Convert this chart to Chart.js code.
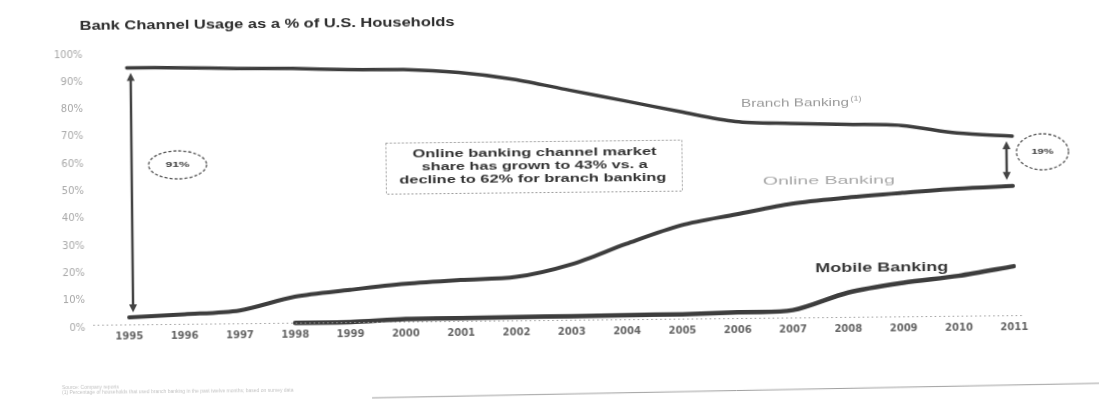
<!DOCTYPE html>
<html>
<head>
<meta charset="utf-8">
<script src="https://cdn.jsdelivr.net/npm/chart.js@4"></script>
<style>
  html, body { margin: 0; padding: 0; background: #fff; overflow: hidden; }
  /* the scanned original sits slightly askew */
  canvas { display: block; transform: rotate(-0.6deg); transform-origin: 50% 50%; }
</style>
</head>
<body>
<canvas id="usage" width="1099" height="402"></canvas>
<script>
// Data (% of U.S. households)
const years = ['1995', '1996', '1997', '1998', '1999', '2000', '2001', '2002', '2003',
               '2004', '2005', '2006', '2007', '2008', '2009', '2010', '2011'];
const branchBanking = [95.1, 94.9, 94.4, 94.2, 93.6, 93.4, 92.1, 89.4, 85.2,
                       81.1, 76.9, 73.1, 72.2, 71.6, 71.0, 68.0, 66.7];
const onlineBanking = [3.7, 4.6, 5.8, 10.6, 12.9, 14.9, 16.1, 17.0, 21.4,
                       28.7, 35.3, 39.1, 42.8, 44.8, 46.3, 47.6, 48.4];
const mobileBanking = [null, null, null, 1.0, 1.1, 2.0, 2.1, 2.3, 2.4,
                       2.6, 2.7, 3.2, 3.8, 10.0, 13.4, 15.7, 19.0];
const yTickStep = 10;

const chartTitle = 'Bank Channel Usage as a % of U.S. Households';
const calloutLines = ['Online banking channel market',
                      'share has grown to 43% vs. a',
                      'decline to 62% for branch banking'];
const footnotes = ['Source: Company reports',
                   '(1) Percentage of households that used branch banking in the past twelve months; based on survey data'];

const LINE = '#3d3d3d';

// draw text squeezed/stretched to a given width (scan text is wide)
function fitText(ctx, text, cx, cy, w, font, color) {
  ctx.save();
  ctx.font = font;
  const m = ctx.measureText(text).width;
  ctx.translate(cx, cy);
  ctx.scale(w / m, 1);
  ctx.textAlign = 'center';
  ctx.textBaseline = 'middle';
  ctx.fillStyle = color;
  ctx.fillText(text, 0, 0);
  ctx.restore();
}

function arrow(ctx, x, y1, y2) {
  ctx.save();
  ctx.strokeStyle = '#444';
  ctx.fillStyle = '#444';
  ctx.lineWidth = 2.5;
  ctx.beginPath();
  ctx.moveTo(x, y1 + 6);
  ctx.lineTo(x, y2 - 6);
  ctx.stroke();
  ctx.beginPath();
  ctx.moveTo(x, y1); ctx.lineTo(x - 4, y1 + 8); ctx.lineTo(x + 4, y1 + 8); ctx.closePath();
  ctx.moveTo(x, y2); ctx.lineTo(x - 4, y2 - 8); ctx.lineTo(x + 4, y2 - 8); ctx.closePath();
  ctx.fill();
  ctx.restore();
}

function dashedEllipse(ctx, cx, cy, rx, ry, label, w) {
  ctx.save();
  ctx.strokeStyle = '#555';
  ctx.lineWidth = 1.3;
  ctx.setLineDash([3, 2]);
  ctx.beginPath();
  ctx.ellipse(cx, cy, rx, ry, 0, 0, Math.PI * 2);
  ctx.stroke();
  ctx.restore();
  fitText(ctx, label, cx, cy, w, 'bold 8px "Liberation Sans"', '#3a3a3a');
}

const notes = {
  id: 'notes',
  afterDraw(chart) {
    const { ctx, scales: { x, y } } = chart;
    const last = years.length - 1;

    fitText(ctx, chartTitle, 269, 22, 375, 'bold 12px "Liberation Sans"', '#2b2b2b');

    // 91% gap in 1995, gap at 2011
    arrow(ctx, x.getPixelForValue(0) + 4,
          y.getPixelForValue(branchBanking[0]) + 5, y.getPixelForValue(onlineBanking[0]) - 5);
    arrow(ctx, x.getPixelForValue(last) - 6,
          y.getPixelForValue(branchBanking[last]) + 5, y.getPixelForValue(onlineBanking[last]) - 6);
    dashedEllipse(ctx, 178, 161, 29, 14, '91%', 24);
    dashedEllipse(ctx, 1043, 157, 26, 18, '19%', 22);

    // callout box
    ctx.save();
    ctx.strokeStyle = '#9a9a9a';
    ctx.lineWidth = 1;
    ctx.setLineDash([2, 2]);
    ctx.strokeRect(386.5, 141.5, 296, 51);
    ctx.restore();
    fitText(ctx, calloutLines[0], 535, 153, 244, 'bold 11px "Liberation Sans"', '#333');
    fitText(ctx, calloutLines[1], 535, 166, 226, 'bold 11px "Liberation Sans"', '#333');
    fitText(ctx, calloutLines[2], 533, 179, 267, 'bold 11px "Liberation Sans"', '#333');

    // series labels
    fitText(ctx, 'Branch Banking', 796, 106, 108, '11px "Liberation Sans"', '#9a9a9a');
    fitText(ctx, '(1)', 857, 102, 11, '7px "Liberation Sans"', '#9a9a9a');
    fitText(ctx, 'Online Banking', 829, 184, 132, '11px "Liberation Sans"', '#a8a8a8');
    fitText(ctx, 'Mobile Banking', 881, 272, 133, 'bold 12px "Liberation Sans"', '#3a3a3a');

    // dotted baseline
    ctx.save();
    ctx.strokeStyle = '#9a9a9a';
    ctx.lineWidth = 1;
    ctx.setLineDash([1.5, 3]);
    ctx.beginPath();
    ctx.moveTo(92, y.getPixelForValue(0) - 2.5);
    ctx.lineTo(x.getPixelForValue(last) + 8, y.getPixelForValue(0) - 2.5);
    ctx.stroke();
    ctx.restore();

    // footnotes and the rule under them
    ctx.save();
    ctx.fillStyle = '#c4c4c4';
    ctx.font = '5px "Liberation Sans"';
    ctx.textBaseline = 'middle';
    ctx.fillText(footnotes[0], 60, 383);
    ctx.fillText(footnotes[1], 60, 388);
    ctx.strokeStyle = '#a0a0a0';
    ctx.lineWidth = 1;
    ctx.beginPath();
    ctx.moveTo(370, 396);
    ctx.lineTo(1099, 389);
    ctx.stroke();
    ctx.restore();
  }
};

new Chart(document.getElementById('usage').getContext('2d'), {
  type: 'line',
  data: {
    labels: years,
    datasets: [
      { label: 'Branch Banking', data: branchBanking, borderColor: LINE, borderWidth: 3.5 },
      { label: 'Online Banking', data: onlineBanking, borderColor: LINE, borderWidth: 4 },
      { label: 'Mobile Banking', data: mobileBanking, borderColor: LINE, borderWidth: 4.5 }
    ]
  },
  options: {
    responsive: false,
    animation: false,
    devicePixelRatio: 1,
    layout: { padding: { top: 44, right: 86, bottom: 59, left: 0 } },
    elements: {
      point: { radius: 0, hoverRadius: 0 },
      line: { tension: 0.3, borderCapStyle: 'round', borderJoinStyle: 'round' }
    },
    scales: {
      x: {
        offset: false,
        grid: { display: false, drawTicks: false },
        border: { display: false },
        afterFit: s => { s.height = 20; },
        ticks: {
          padding: 3,
          maxRotation: 0,
          autoSkip: false,
          color: '#666',
          font: { family: 'DejaVu Sans', size: 10, weight: 'bold' }
        }
      },
      y: {
        min: 0,
        max: 100,
        grid: { display: false, drawTicks: false },
        border: { display: false },
        afterFit: s => { s.width = 128; },
        ticks: {
          stepSize: yTickStep,
          padding: 44,
          color: '#a8a8a8',
          font: { family: 'DejaVu Sans', size: 10 },
          callback: v => v + '%'
        }
      }
    },
    plugins: {
      legend: { display: false },
      tooltip: { enabled: false }
    }
  },
  plugins: [notes]
});
</script>
</body>
</html>
